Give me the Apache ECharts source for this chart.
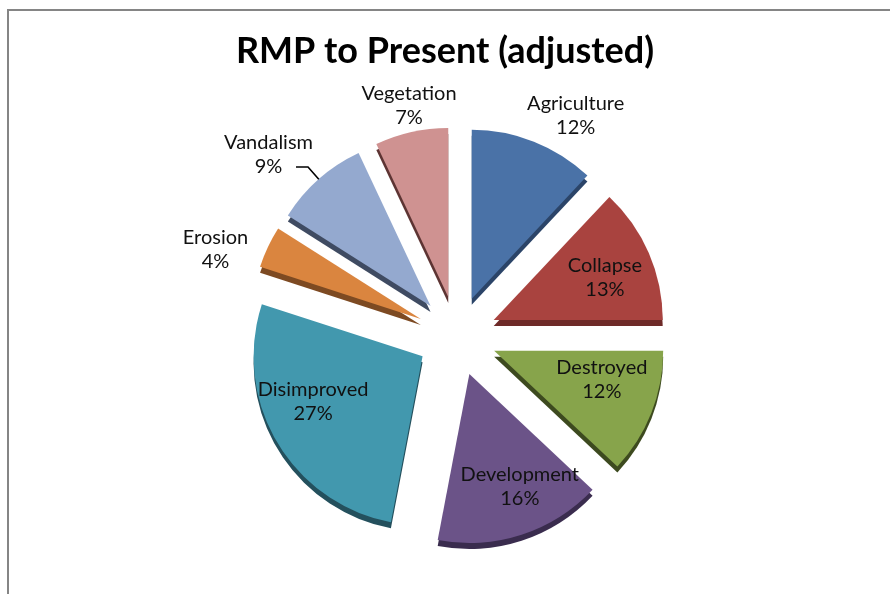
<!DOCTYPE html>
<html><head><meta charset="utf-8">
<script src="https://cdn.jsdelivr.net/npm/echarts@6/dist/echarts.min.js"></script>
<style>html,body{margin:0;padding:0;background:#fff}#c{width:890px;height:594px}</style>
</head><body><div id="c"></div>
<script>
// ---- data ----
const title = 'RMP to Present (adjusted)';
const categories = ['Agriculture', 'Collapse', 'Destroyed', 'Development', 'Disimproved', 'Erosion', 'Vandalism', 'Vegetation'];
const shares = [12, 13, 12, 16, 27, 4, 9, 7];
const insideLabelled = ['Collapse', 'Destroyed', 'Development', 'Disimproved'];

// ---- styles ----
const faceColors = ['#4a72a7', '#a9433f', '#87a44b', '#6b5388', '#4298ae', '#da853f', '#94a9cf', '#cf9291'];
const sideColors = ['#2b4468', '#6e2a28', '#3d4a1f', '#3a2c4e', '#24505d', '#7d4a22', '#3f4b62', '#5d3433'];
const FONT = 'Lato';
const CX = 457, CY = 336, R = 169, OFF = 40, DEPTH = 6;

// outside-label placement (label line lengths / distances)
const outsideCfg = {
  Agriculture: { len: 27.6, len2: 0, dist: -17, line: false, series: 'face' },
  Vegetation: { len: 26.7, len2: 0, dist: -51, line: false, series: 'outer' },
  Vandalism: { len: 16.3, len2: 12, dist: -17, line: true, series: 'outer' },
  Erosion: { len: -7, len2: 0, dist: 26, line: false, series: 'outer' }
};
// small nudges of the inside labels (perspective of the original 3D pie)
const insideNudge = { Collapse: [3, 4], Destroyed: [-2, -15], Development: [14, 0], Disimproved: [-8, -15] };

const rich = { n: { align: 'center', fontFamily: FONT, fontSize: 20, lineHeight: 24, color: '#111' } };

function baseItems(colors, extra) {
  return categories.map((name, i) => Object.assign({
    name: name, value: shares[i], selected: true,
    itemStyle: { color: colors ? colors[i] : 'rgba(0,0,0,0)' }
  }, extra ? extra(name, i) : {}));
}

function outsideLabel(name, seriesKey) {
  const c = outsideCfg[name];
  if (!c || c.series !== seriesKey) return { label: { show: false }, labelLine: { show: false } };
  return {
    label: {
      show: true, position: 'outside', alignTo: 'none',
      distanceToLabelLine: c.dist,
      formatter: name === 'Vandalism' ? '{n|{b}}\n{n|{d}%}\n{n| }' : '{n|{b}}\n{n|{d}%}',
      rich: rich
    },
    labelLine: { show: c.line, length: c.len, length2: c.len2, smooth: false,
      lineStyle: { color: '#000', width: 1.6 } }
  };
}

const common = {
  type: 'pie', startAngle: 90, clockwise: true,
  selectedMode: 'multiple', selectedOffset: OFF,
  avoidLabelOverlap: true, percentPrecision: 0,
  emphasis: { disabled: true }, animation: false,
  itemStyle: { borderWidth: 0 }
};

const chart = echarts.init(document.getElementById('c'), null, { renderer: 'canvas' });
chart.setOption({
  backgroundColor: '#fff',
  animation: false,
  title: {
    text: title, left: 'center', top: 28,
    textStyle: { fontFamily: FONT, fontWeight: 'bold', fontSize: 36, color: '#000' }
  },
  graphic: [{
    type: 'rect', silent: true, z: -1,
    shape: { x: 8, y: 10, width: 900, height: 620 },
    style: { fill: 'none', stroke: '#858585', lineWidth: 2 }
  }],
  series: [
    Object.assign({}, common, {
      name: 'side', z: 1, silent: true,
      center: [CX, CY + DEPTH], radius: R,
      label: { show: false }, labelLine: { show: false },
      data: baseItems(sideColors)
    }),
    Object.assign({}, common, {
      name: 'face', z: 2,
      center: [CX, CY], radius: R,
      data: baseItems(faceColors, (name) => outsideLabel(name, 'face'))
    }),
    Object.assign({}, common, {
      name: 'outer', z: 3, silent: true,
      center: [CX, CY], radius: R,
      data: baseItems(null, (name) => outsideLabel(name, 'outer'))
    }),
    Object.assign({}, common, {
      name: 'inner', z: 4, silent: true,
      center: [CX, CY], radius: [R * 0.36, R],
      labelLayout: function (p) {
        const n = insideNudge[categories[p.dataIndex]];
        return n ? { dx: n[0], dy: n[1] } : {};
      },
      data: baseItems(null, (name) => insideLabelled.indexOf(name) >= 0 ? {
        label: { show: true, position: 'inside', formatter: '{n|{b}}\n{n|{d}%}', rich: rich }
      } : { label: { show: false } })
    })
  ]
});
</script>
</body></html>
